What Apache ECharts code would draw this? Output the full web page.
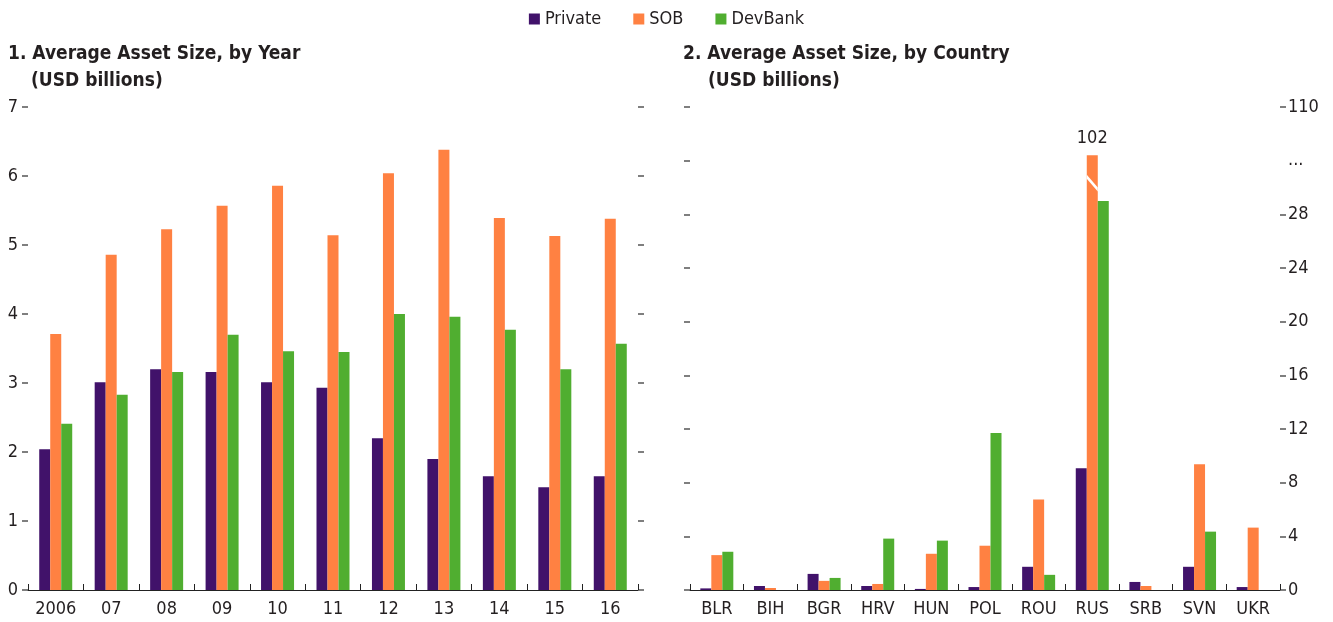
<!DOCTYPE html>
<html>
<head>
<meta charset="utf-8">
<script src="https://cdn.jsdelivr.net/npm/echarts@6/dist/echarts.min.js"></script>
<style>
  html, body { margin: 0; padding: 0; background: #fff; }
  #chart { width: 1333px; height: 622px; }
</style>
</head>
<body>
<div id="chart"></div>
<script>
// ---- Data ----
const years = ['2006', '07', '08', '09', '10', '11', '12', '13', '14', '15', '16'];
const privateByYear = [2.04, 3.01, 3.20, 3.16, 3.01, 2.93, 2.20, 1.90, 1.65, 1.49, 1.65];
const sobByYear     = [3.71, 4.86, 5.23, 5.57, 5.86, 5.14, 6.04, 6.38, 5.39, 5.13, 5.38];
const devByYear     = [2.41, 2.83, 3.16, 3.70, 3.46, 3.45, 4.00, 3.96, 3.77, 3.20, 3.57];

const countries = ['BLR', 'BIH', 'BGR', 'HRV', 'HUN', 'POL', 'ROU', 'RUS', 'SRB', 'SVN', 'UKR'];
const privateByCountry = [0.12, 0.30, 1.20, 0.30, 0.08, 0.22, 1.73, 9.08, 0.60, 1.73, 0.22];
const sobByCountry     = [2.60, 0.15, 0.68, 0.45, 2.70, 3.30, 6.75, 102, 0.30, 9.38, 4.65];
const devByCountry     = [2.85, 0, 0.90, 3.83, 3.68, 11.70, 1.13, 29.0, 0, 4.35, 0];

const yearTicks = [0, 1, 2, 3, 4, 5, 6, 7];
const countryTicks = [0, 4, 8, 12, 16, 20, 24, 28, 32, 36];
const countryTickLabels = ['0', '4', '8', '12', '16', '20', '24', '28', '...', '110'];

// axis break: values above breakAt are drawn truncated at brokenTop (display units)
const breakAt = 30;
const brokenTop = 32.4;
const slashFrom = 30.8, slashTo = 29.85;

// ---- Styling ----
const FONT = "'Liberation Sans Narrow', 'Arial Narrow', 'DejaVu Sans Condensed', sans-serif";
const TXT = '#231f20';
const C_PRIV = '#41126a', C_SOB = '#ff8142', C_DEV = '#50ae30';

const chart = echarts.init(document.getElementById('chart'), null, { renderer: 'canvas' });

function disp(v) { return v > breakAt ? brokenTop : v; }

const xCommon = {
  type: 'category',
  axisLine: { show: true, lineStyle: { color: '#222', width: 1 } },
  axisTick: { show: true, inside: true, length: 6, lineStyle: { color: '#222' } },
  axisLabel: { color: TXT, fontSize: 18, fontFamily: FONT, margin: 10 },
  splitLine: { show: false }
};
const yTickStyle = { show: true, length: 6, lineStyle: { color: '#555', width: 1.5 } };

function barSeries(name, color, data, xi, yi) {
  return {
    name, type: 'bar', xAxisIndex: xi, yAxisIndex: yi,
    data, barWidth: 11, barGap: '0%',
    itemStyle: { color }, emphasis: { disabled: true }, animation: false
  };
}

const sobCountryData = sobByCountry.map(v => v > breakAt
  ? { value: disp(v), label: { show: true, position: 'top', distance: 8, formatter: String(v),
      color: TXT, fontSize: 18, fontFamily: FONT } }
  : v);

const titleStyle = { fontSize: 19, fontWeight: 'bold', color: TXT, fontFamily: FONT };

const option = {
  animation: false,
  textStyle: { fontFamily: FONT, color: TXT },
  legend: {
    top: 5, left: 'center', icon: 'rect', itemWidth: 11, itemHeight: 11, itemGap: 32,
    data: ['Private', 'SOB', 'DevBank'],
    textStyle: { fontSize: 18, color: TXT, fontFamily: FONT }
  },
  title: [
    { text: '1. Average Asset Size, by Year', left: 8, top: 45, padding: 0, textStyle: titleStyle },
    { text: '(USD billions)', left: 31, top: 72, padding: 0, textStyle: titleStyle },
    { text: '2. Average Asset Size, by Country', left: 683, top: 45, padding: 0, textStyle: titleStyle },
    { text: '(USD billions)', left: 708, top: 72, padding: 0, textStyle: titleStyle }
  ],
  grid: [
    { left: 28, right: 1333 - 638, top: 107, bottom: 32 },
    { left: 690, right: 1333 - 1280, top: 107, bottom: 32 }
  ],
  xAxis: [
    Object.assign({ gridIndex: 0, data: years }, xCommon),
    Object.assign({ gridIndex: 1, data: countries }, xCommon)
  ],
  yAxis: [
    { gridIndex: 0, type: 'value', position: 'left', min: 0, max: 7, interval: 1,
      axisLine: { show: false }, axisTick: yTickStyle, splitLine: { show: false },
      axisLabel: { color: TXT, fontSize: 18, fontFamily: FONT, margin: 10,
        customValues: yearTicks } },
    { gridIndex: 0, type: 'value', position: 'right', min: 0, max: 7, interval: 1,
      axisLine: { show: false }, axisTick: yTickStyle, splitLine: { show: false },
      axisLabel: { show: false } },
    { gridIndex: 1, type: 'value', position: 'left', min: 0, max: 36, interval: 4,
      axisLine: { show: false }, axisTick: yTickStyle, splitLine: { show: false },
      axisLabel: { show: false } },
    { gridIndex: 1, type: 'value', position: 'right', min: 0, max: 36, interval: 4,
      axisLine: { show: false },
      axisTick: Object.assign({}, yTickStyle, { customValues: countryTicks.filter(v => v !== 32) }),
      splitLine: { show: false },
      axisLabel: { color: TXT, fontSize: 18, fontFamily: FONT, margin: 8,
        customValues: countryTicks,
        formatter: v => countryTickLabels[countryTicks.indexOf(v)] } }
  ],
  series: [
    barSeries('Private', C_PRIV, privateByYear, 0, 0),
    barSeries('SOB', C_SOB, sobByYear, 0, 0),
    barSeries('DevBank', C_DEV, devByYear, 0, 0),
    barSeries('Private', C_PRIV, privateByCountry, 1, 2),
    barSeries('SOB', C_SOB, sobCountryData, 1, 2),
    barSeries('DevBank', C_DEV, devByCountry.map(disp), 1, 2),
    {
      type: 'custom', xAxisIndex: 1, yAxisIndex: 2, silent: true, z: 10,
      data: sobByCountry.map((v, i) => v > breakAt ? [i, slashFrom, slashTo] : null).filter(d => d),
      renderItem: function (params, api) {
        const i = api.value(0);
        const a = api.coord([i, api.value(1)]);
        const b = api.coord([i, api.value(2)]);
        const half = 5.5;
        return {
          type: 'polygon',
          shape: { points: [[a[0] - half, a[1] - 2], [b[0] + half, b[1] - 2],
                            [b[0] + half, b[1] + 2], [a[0] - half, a[1] + 2]] },
          style: { fill: '#fff' }
        };
      }
    }
  ]
};
chart.setOption(option);
</script>
</body>
</html>
